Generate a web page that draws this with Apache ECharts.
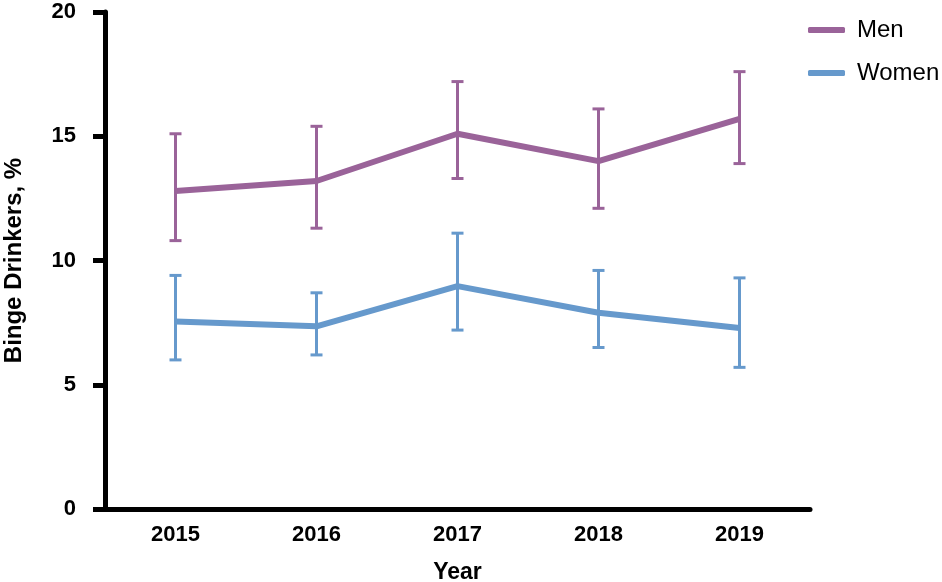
<!DOCTYPE html>
<html>
<head>
<meta charset="utf-8">
<script src="https://cdn.jsdelivr.net/npm/echarts@6/dist/echarts.min.js"></script>
<style>html,body{margin:0;padding:0;background:#fff;}#c{width:942px;height:582px;}</style>
</head>
<body>
<div id="c"></div>
<script>
var years = ['2015', '2016', '2017', '2018', '2019'];
var menMean = [12.8, 13.2, 15.1, 14.0, 15.7];
var menLow = [10.8, 11.3, 13.3, 12.1, 13.9];
var menHigh = [15.1, 15.4, 17.2, 16.1, 17.6];
var womenMean = [7.55, 7.35, 8.97, 7.9, 7.28];
var womenLow = [6.0, 6.2, 7.2, 6.5, 5.7];
var womenHigh = [9.4, 8.7, 11.1, 9.6, 9.3];
var yTicks = [0, 5, 10, 15, 20];

var MEN = '#9a6399';
var WOMEN = '#6699cc';
var FONT = '"Liberation Sans", Arial, sans-serif';

function errData(low, high) {
  return low.map(function (l, i) { return [i, l, high[i]]; });
}
function errRender(color) {
  return function (params, api) {
    var x = api.value(0);
    var lo = api.coord([x, api.value(1)]);
    var hi = api.coord([x, api.value(2)]);
    var w = 6;
    var st = { stroke: color, lineWidth: 3 };
    return {
      type: 'group',
      children: [
        { type: 'line', shape: { x1: lo[0], y1: lo[1], x2: hi[0], y2: hi[1] }, style: st },
        { type: 'line', shape: { x1: lo[0] - w, y1: lo[1], x2: lo[0] + w, y2: lo[1] }, style: st },
        { type: 'line', shape: { x1: hi[0] - w, y1: hi[1], x2: hi[0] + w, y2: hi[1] }, style: st }
      ]
    };
  };
}

var chart = echarts.init(document.getElementById('c'));
chart.setOption({
  animation: false,
  textStyle: { fontFamily: FONT },
  legend: {
    orient: 'vertical',
    left: 803,
    top: 13,
    itemWidth: 37,
    itemHeight: 6,
    itemGap: 19,
    icon: 'roundRect',
    data: [
      { name: 'Men', itemStyle: { color: MEN } },
      { name: 'Women', itemStyle: { color: WOMEN } }
    ],
    textStyle: { fontSize: 24, color: '#000', fontFamily: FONT, padding: [0, 0, 0, 7] }
  },
  grid: { left: 105, right: 132, top: 12, bottom: 73, containLabel: false, outerBoundsMode: 'none' },
  xAxis: {
    type: 'category',
    data: years,
    boundaryGap: true,
    name: 'Year',
    nameLocation: 'middle',
    nameGap: 52,
    nameTextStyle: { fontSize: 23, fontWeight: 'bold', color: '#000', fontFamily: FONT },
    axisLine: { lineStyle: { color: '#000', width: 5 } },
    axisTick: { alignWithLabel: true, length: 7, lineStyle: { color: '#000', width: 4 } },
    axisLabel: { fontSize: 22, fontWeight: 'bold', color: '#000', margin: 15, fontFamily: FONT },
    splitLine: { show: false }
  },
  yAxis: {
    type: 'value',
    min: 0,
    max: 20,
    interval: 5,
    name: 'Binge Drinkers, %',
    nameLocation: 'middle',
    nameGap: 79,
    nameTextStyle: { fontSize: 24, fontWeight: 'bold', color: '#000', fontFamily: FONT },
    axisLine: { show: true, lineStyle: { color: '#000', width: 5 } },
    axisTick: { show: true, length: 12, lineStyle: { color: '#000', width: 5 } },
    axisLabel: {
      fontSize: 22, fontWeight: 'bold', color: '#000', margin: 29, fontFamily: FONT,
      formatter: function (v) { return yTicks.indexOf(v) >= 0 ? String(v) : ''; }
    },
    splitLine: { show: false }
  },
  series: [
    {
      name: 'Men', type: 'line', data: menMean, showSymbol: false, symbol: 'none',
      lineStyle: { color: MEN, width: 6 }, itemStyle: { color: MEN }, z: 3
    },
    {
      name: 'Women', type: 'line', data: womenMean, showSymbol: false, symbol: 'none',
      lineStyle: { color: WOMEN, width: 6 }, itemStyle: { color: WOMEN }, z: 3
    },
    {
      name: 'MenErr', type: 'custom', data: errData(menLow, menHigh),
      renderItem: errRender(MEN), encode: { x: 0, y: [1, 2] }, z: 2, silent: true
    },
    {
      name: 'WomenErr', type: 'custom', data: errData(womenLow, womenHigh),
      renderItem: errRender(WOMEN), encode: { x: 0, y: [1, 2] }, z: 2, silent: true
    }
  ]
});
</script>
</body>
</html>
